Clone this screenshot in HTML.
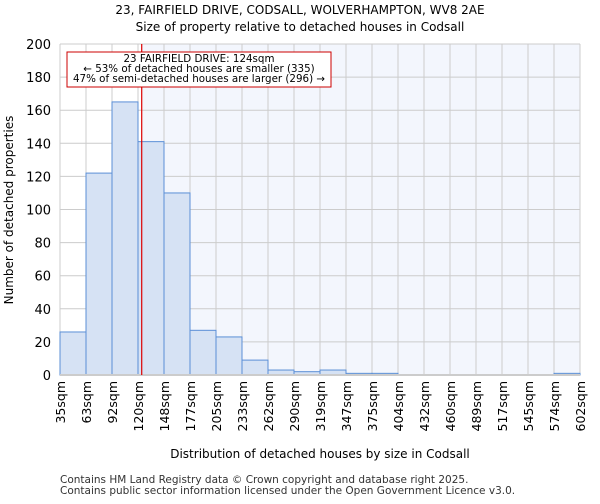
<!DOCTYPE html>
<html><head><meta charset="utf-8"><style>
body{margin:0;background:#fff;font-family:"DejaVu Sans","Liberation Sans",sans-serif;}
</style></head><body>
<svg width="600" height="500" xmlns="http://www.w3.org/2000/svg" font-family="DejaVu Sans, Liberation Sans, sans-serif">
<text x="300" y="14" font-size="12" text-anchor="middle">23, FAIRFIELD DRIVE, CODSALL, WOLVERHAMPTON, WV8 2AE</text>
<text x="300" y="31" font-size="12" text-anchor="middle">Size of property relative to detached houses in Codsall</text>
<g id="plot"></g>
<text x="320" y="458" font-size="12" text-anchor="middle">Distribution of detached houses by size in Codsall</text>
<text transform="translate(13,210) rotate(-90)" font-size="12" text-anchor="middle">Number of detached properties</text>
<text x="60" y="483" font-size="10.5" fill="#333">Contains HM Land Registry data © Crown copyright and database right 2025.</text>
<text x="60" y="494" font-size="10.5" fill="#333">Contains public sector information licensed under the Open Government Licence v3.0.</text>
</svg>
<script>
const binLabels=["35sqm","63sqm","92sqm","120sqm","148sqm","177sqm","205sqm","233sqm","262sqm","290sqm","319sqm","347sqm","375sqm","404sqm","432sqm","460sqm","489sqm","517sqm","545sqm","574sqm","602sqm"];
const binEdges=[35,63,92,120,148,177,205,233,262,290,319,347,375,404,432,460,489,517,545,574,602];
const counts=[26,122,165,141,110,27,23,9,3,2,3,1,1,0,0,0,0,0,0,1];
const yTicks=[0,20,40,60,80,100,120,140,160,180,200];
const propertySize=124;
const NS="http://www.w3.org/2000/svg";
const L=60,R=580,T=44,B=375;
const nb=counts.length;
const xi=i=>L+(R-L)*i/nb;
const xv=v=>{let i=0;while(i<nb-1&&v>binEdges[i+1])i++;return xi(i)+(v-binEdges[i])/(binEdges[i+1]-binEdges[i])*(R-L)/nb;};
const y=v=>B-(B-T)*v/200;
const g=document.getElementById('plot');
function mk(t,a){const e=document.createElementNS(NS,t);for(const k in a)e.setAttribute(k,a[k]);g.appendChild(e);return e;}
let e;
const px=xv(propertySize);
e=mk('rect',{x:L,y:T,width:R-L,height:B-T,fill:'#ffffff'});


e=mk('rect',{x:px,y:T,width:R-px,height:B-T,fill:'#f3f6fd'});


yTicks.forEach(t=>{
 e=mk('line',{x1:L,x2:R,y1:y(t),y2:y(t),stroke:'#cccccc'});
 
 
 e=mk('text',{x:L-9,y:y(t)+5,'font-size':13,'text-anchor':'end'});e.textContent=t;
 
 
});
binLabels.forEach((l,i)=>{
 e=mk('line',{x1:xi(i),x2:xi(i),y1:T,y2:B,stroke:'#cccccc'});
 
 
 e=mk('text',{transform:`translate(${xi(i)+5},${B+6}) rotate(-90)`,'font-size':12.5,'text-anchor':'end'});e.textContent=l;
 
 
});
counts.forEach((c,i)=>{
 if(c<=0)return;
 e=mk('rect',{x:xi(i),y:y(c),width:(R-L)/nb,height:B-y(c),fill:'#d6e2f4',stroke:'#5b8fd6','stroke-width':1});
 
 
});
e=mk('line',{x1:L,x2:R,y1:B,y2:B,stroke:'#cccccc','stroke-width':2});


e=mk('line',{x1:px,x2:px,y1:T,y2:B,stroke:'#dd0000','stroke-width':1.2});


e=mk('rect',{x:67,y:52,width:264,height:35,fill:'#fff',stroke:'#cc0000','stroke-width':1});


["23 FAIRFIELD DRIVE: 124sqm","← 53% of detached houses are smaller (335)","47% of semi-detached houses are larger (296) →"].forEach((s,i)=>{
 e=mk('text',{x:199,y:62+i*10,'font-size':10.3,'text-anchor':'middle'});e.textContent=s;
 
 
});
</script>
</body></html>
